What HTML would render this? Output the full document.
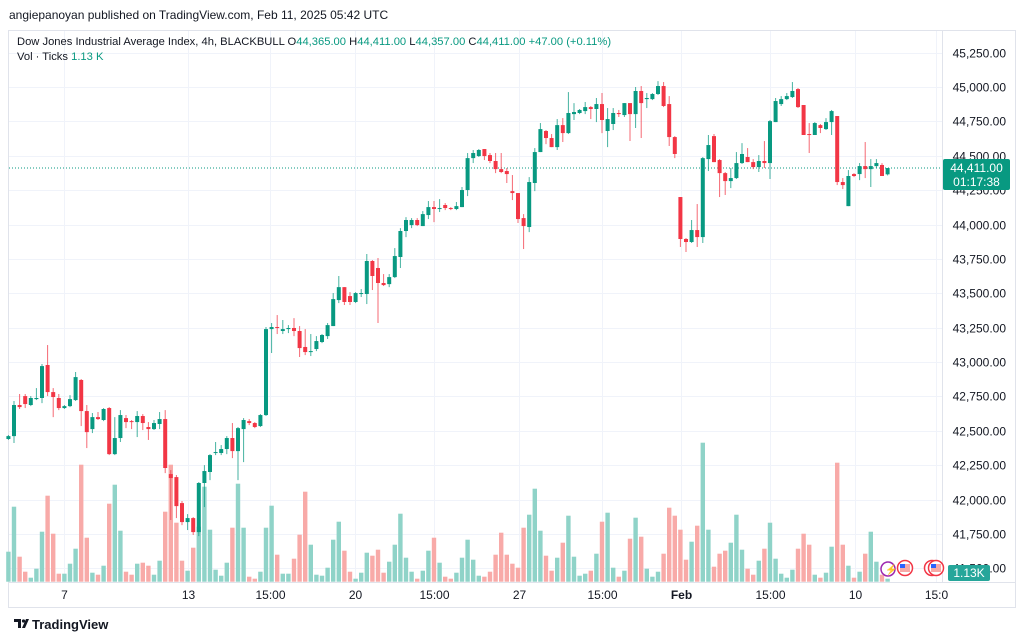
<!DOCTYPE html>
<html><head><meta charset="utf-8"><style>
body{margin:0;background:#fff;width:1024px;height:641px;overflow:hidden;font-family:"Liberation Sans",sans-serif}
svg{display:block}
text{font-family:"Liberation Sans",sans-serif}
</style></head><body>
<svg id="chart" width="1024" height="641" viewBox="0 0 1024 641" xmlns="http://www.w3.org/2000/svg">
<rect x="0" y="0" width="1024" height="641" fill="#fff"/>
<text x="9" y="19" font-size="12" fill="#131722">angiepanoyan published on TradingView.com, Feb 11, 2025 05:42 UTC</text>
<rect x="8.5" y="30.5" width="1007" height="577" fill="none" stroke="#e0e3eb"/>
<g id="grid"></g>
<line x1="942.5" y1="31" x2="942.5" y2="582" stroke="#e0e3eb"/>
<line x1="9" y1="582.5" x2="1015" y2="582.5" stroke="#e0e3eb"/>
<g id="vols"></g>
<g id="candles"></g>
<g id="yaxis"></g>
<g id="xaxis"></g>
<g font-size="11.2">
<text x="17" y="45" fill="#131722">Dow Jones Industrial Average Index, 4h, BLACKBULL <tspan fill="#131722">O</tspan><tspan fill="#089981">44,365.00</tspan> <tspan fill="#131722">H</tspan><tspan fill="#089981">44,411.00</tspan> <tspan fill="#131722">L</tspan><tspan fill="#089981">44,357.00</tspan> <tspan fill="#131722">C</tspan><tspan fill="#089981">44,411.00</tspan> <tspan fill="#089981">+47.00 (+0.11%)</tspan></text>
<text x="17" y="60" fill="#131722">Vol · Ticks <tspan fill="#089981">1.13 K</tspan></text>
</g>
<g>
<circle cx="888" cy="569" r="7" fill="#fff" stroke="#9c27b0" stroke-width="1.5"/>
<text x="885" y="573" font-size="10" fill="#9c27b0">⚡</text>
<circle cx="905" cy="568" r="7.5" fill="#fff" stroke="#f23645" stroke-width="1.5"/>
<rect x="900" y="564" width="10" height="8" fill="#f7a9a7"/><rect x="900" y="564" width="5" height="4" fill="#2962ff"/>
<circle cx="932" cy="568" r="7.5" fill="#fff" stroke="#f23645" stroke-width="1.5"/>
<circle cx="936" cy="568" r="7.5" fill="#fff" stroke="#f23645" stroke-width="1.5"/>
<rect x="931" y="564" width="10" height="8" fill="#f7a9a7"/><rect x="931" y="564" width="5" height="4" fill="#2962ff"/>
</g>
<g>
<rect x="943" y="159" width="67" height="31" rx="2" fill="#089981"/>
<text x="976.5" y="172" font-size="12" fill="#fff" text-anchor="middle">44,411.00</text>
<text x="976.5" y="186" font-size="12" fill="#fff" text-anchor="middle">01:17:38</text>
</g>
<g>
<rect x="948" y="565" width="42" height="16" rx="2" fill="#26a69a"/>
<text x="969" y="577" font-size="12" fill="#fff" text-anchor="middle">1.13K</text>
</g>
<g>
<path d="M14 619h7v9h-3v-6h-4z M22 628l4-9h3l-4 9z" fill="#131722"/>
<circle cx="23.5" cy="621" r="1.6" fill="#131722"/>
<text x="32" y="629" font-size="13" font-weight="bold" fill="#131722">TradingView</text>
</g>
</svg>
<script>
const opens=[42441,42462,42688,42753,42688,42731,42739,42979,42782,42739,42666,42680,42724,42870,42644,42513,42600,42579,42666,42331,42448,42593,42571,42564,42608,42528,42513,42550,42586,42186,42164,41975,41837,41866,41764,42121,42201,42339,42339,42368,42448,42353,42513,42571,42557,42535,42615,43240,43255,43226,43240,43248,43226,43110,43073,43095,43146,43189,43262,43451,43545,43480,43437,43495,43495,43735,43684,43575,43567,43618,43764,43953,43996,44033,43989,44069,44127,44113,44142,44120,44113,44127,44251,44483,44498,44549,44505,44462,44403,44389,44243,44229,44047,43982,44302,44527,44680,44629,44563,44723,44665,44803,44811,44825,44854,44840,44876,44680,44731,44811,44796,44883,44803,44971,44912,44912,44949,45007,44876,44636,44200,43895,43873,43960,43909,44476,44643,44469,44374,44316,44338,44447,44491,44454,44418,44462,44447,44745,44876,44912,44927,44985,44869,44658,44651,44723,44694,44745,44789,44309,44134,44367,44367,44425,44403,44425,44433,44365];
const highs=[42470,42717,42768,42768,42753,42811,42986,43124,42811,42768,42688,42760,42928,42877,42688,42630,42637,42666,42673,42600,42651,42615,42579,42644,42622,42564,42579,42637,42651,42215,42179,41990,41895,41873,42128,42251,42331,42419,42397,42462,42557,42528,42593,42586,42564,42622,43255,43284,43342,43306,43269,43320,43262,43240,43204,43189,43204,43284,43502,43626,43545,43509,43509,43531,43786,43742,43757,43640,43640,43829,43974,44054,44047,44047,44098,44171,44171,44185,44156,44127,44164,44273,44520,44542,44549,44549,44520,44520,44520,44411,44360,44229,44076,44345,44556,44738,44687,44658,44767,44774,44963,44883,44840,44891,44862,44920,44956,44847,44847,44833,44883,44883,45000,45007,44956,44956,45043,45036,44934,44643,44200,43902,44033,44149,44491,44651,44658,44476,44382,44411,44527,44592,44556,44476,44505,44607,44760,44920,44934,44956,45036,44993,44869,44738,44745,44731,44774,44833,44789,44338,44396,44374,44447,44600,44476,44476,44447,44411];
const lows=[42434,42412,42659,42666,42680,42724,42702,42753,42600,42651,42659,42673,42717,42535,42375,42484,42579,42571,42324,42324,42419,42520,42513,42455,42506,42434,42506,42513,42193,41852,41866,41815,41779,41743,41735,41946,42142,42324,42324,42331,42302,42142,42273,42542,42520,42528,42608,43066,43204,43204,43211,43189,43037,43051,43044,43080,43138,43168,43262,43429,43415,43415,43429,43473,43422,43524,43284,43553,43545,43611,43684,43909,43974,43989,43989,44040,44018,44091,44105,44105,44105,44127,44207,44447,44491,44469,44447,44374,44374,44302,44178,44011,43822,43945,44243,44527,44585,44563,44542,44600,44658,44760,44803,44803,44767,44745,44665,44563,44687,44782,44782,44607,44702,44629,44847,44905,44942,44854,44571,44483,43837,43800,43866,43837,43866,44389,44454,44200,44215,44265,44331,44440,44454,44403,44382,44411,44331,44745,44862,44905,44920,44847,44651,44520,44651,44665,44687,44651,44287,44258,44134,44345,44323,44338,44273,44411,44353,44357];
const closes=[42462,42688,42673,42695,42739,42739,42971,42782,42746,42666,42680,42731,42891,42644,42491,42600,42586,42659,42331,42448,42615,42564,42564,42608,42557,42513,42557,42586,42230,42157,41953,41837,41866,41764,42121,42208,42324,42346,42368,42448,42353,42520,42579,42557,42528,42615,43240,43255,43248,43240,43248,43226,43102,43073,43080,43153,43197,43269,43458,43545,43437,43437,43502,43502,43735,43626,43575,43560,43618,43771,43953,44033,44033,43996,44076,44127,44113,44120,44120,44113,44134,44251,44483,44520,44542,44498,44462,44403,44382,44367,44229,44040,43989,44309,44527,44694,44629,44563,44723,44665,44811,44818,44833,44854,44840,44876,44760,44767,44811,44803,44883,44803,44971,44883,44920,44949,45007,44862,44636,44513,43895,43873,43960,43909,44483,44578,44454,44374,44316,44338,44447,44513,44454,44418,44462,44447,44752,44898,44912,44934,44971,44854,44651,44651,44738,44702,44745,44825,44309,44287,44353,44353,44425,44403,44425,44447,44353,44411];
const volumes=[300,750,250,100,40,130,500,860,480,80,80,180,330,1170,440,90,70,160,780,970,510,100,70,180,190,160,70,210,700,1170,590,210,110,340,550,950,520,120,60,190,540,980,540,50,30,100,540,760,270,80,80,230,470,900,370,70,60,140,420,600,310,100,30,90,290,260,320,90,200,370,680,240,100,30,110,310,440,190,50,30,90,240,420,220,60,50,100,270,490,270,180,140,540,670,930,510,260,110,240,390,660,250,60,80,110,280,600,690,140,50,110,430,640,450,130,50,100,280,740,660,520,220,400,560,1390,520,150,280,310,390,670,320,130,70,210,330,590,230,80,40,120,330,480,370,70,40,90,350,1190,370,160,40,100,280,500,200,70,30];
const priceTicks=[45250,45000,44750,44500,44250,44000,43750,43500,43250,43000,42750,42500,42250,42000,41750,41500];
const timeLabels=["7","13","15:00","20","15:00","27","15:00","Feb","15:00","10","15:0"];
const timeLabelIdx=[9.9,32.1,46.7,61.9,76,91.2,106,120.1,136,151.2,165.6];

const NS="http://www.w3.org/2000/svg";
function yPrice(p){return 87+(45000-p)*0.13755;}
function xIdx(i){return 8.4+5.6*i;}
function yVol(v){return 581.7-v/10;}
function mk(tag,attrs,parent){const e=document.createElementNS(NS,tag);for(const k in attrs)e.setAttribute(k,attrs[k]);parent.appendChild(e);return e;}
const grid=document.getElementById('grid'),vols=document.getElementById('vols'),cg=document.getElementById('candles'),ya=document.getElementById('yaxis'),xa=document.getElementById('xaxis');

priceTicks.forEach(p=>{
  const y=Math.round(yPrice(p))+0.5;
  const l=mk('line',{x1:9,x2:942,y1:y,y2:y,stroke:'#f0f3fa'},grid);
  
  
  const t=mk('text',{x:1006,y:y+4,'font-size':12,fill:'#131722','text-anchor':'end'},ya);
  t.textContent=p.toLocaleString('en-US')+'.00';
  
  
});
timeLabels.forEach((s,k)=>{
  const x=Math.round(xIdx(timeLabelIdx[k]))+0.5;
  const l=mk('line',{x1:x,x2:x,y1:31,y2:582,stroke:'#f0f3fa'},grid);
  
  
  const t=mk('text',{x:x,y:599,'font-size':12,fill:'#131722','text-anchor':'middle','font-weight':s==='Feb'?'bold':'normal'},xa);
  t.textContent=s;
  
  
});
const lp=mk('line',{x1:9,x2:942,y1:yPrice(closes[closes.length-1]),y2:yPrice(closes[closes.length-1]),stroke:'#089981','stroke-dasharray':'1 2','stroke-width':1},grid);



volumes.forEach((v,i)=>{
  const up=closes[i]>=opens[i];
  const x=xIdx(i);
  const r=mk('rect',{x:x-2.2,y:yVol(v),width:4.4,height:581.7-yVol(v),fill:up?'#8fd3c8':'#f8aaa8'},vols);
  
  
});
opens.forEach((o,i)=>{
  const c=closes[i],up=c>=o,col=up?'#089981':'#f23645';
  const x=xIdx(i);
  const g=mk('g',{},cg);
  
  
  mk('line',{x1:x,x2:x,y1:yPrice(highs[i]),y2:yPrice(lows[i]),stroke:col,'stroke-width':1,opacity:0.75},g);
  const top=yPrice(Math.max(o,c)),bot=yPrice(Math.min(o,c));
  mk('rect',{x:x-2,y:top,width:4,height:Math.max(1,bot-top),fill:col},g);
});
</script>
</body></html>
